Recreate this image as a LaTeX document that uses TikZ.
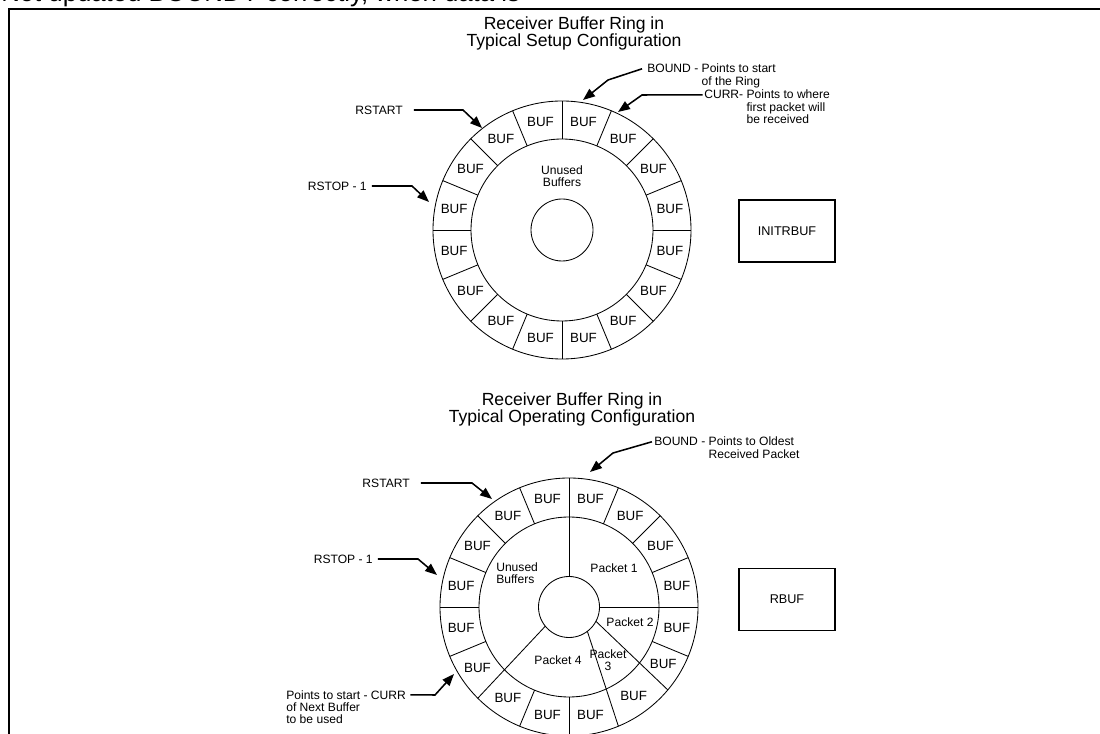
\documentclass[tikz,border=0pt]{standalone}
\usepackage{fontspec}
\setmainfont{Liberation Sans}
\usetikzlibrary{arrows.meta,positioning}

\begin{document}
\begin{tikzpicture}[x=0.025cm, y=-0.025cm,
    ringline/.style={line width=0.6pt},
    ptr/.style={-{Triangle[length=8.5pt,width=6.5pt]}, line width=1.1pt},
    buf/.style={font=\fontsize{9.5}{9.5}\selectfont, inner sep=0pt},
    note/.style={font=\fontsize{8.6}{8.5}\selectfont, inner sep=0pt},
    ttl/.style={font=\fontsize{12.5}{11.2}\selectfont, inner sep=0pt},
    regbox/.style={draw, line width=0.8pt, minimum width=2.4cm, minimum height=1.55cm, font=\fontsize{9}{9}\selectfont}]

    \useasboundingbox (0,0) rectangle (1100,734);
    \clip (0,0) rectangle (1100,734);

    % Page fragment and frame
    \node[anchor=base west, font=\fontsize{18.3}{18.3}\selectfont, inner sep=0pt] (pagetext) at (1,2) {Not updated BOUNDY correctly, when data is};
    \draw[line width=1pt] (9,734) -- (9,9) -- (1100,9);

    % Setup ring
    \coordinate (T) at (562,230);
    \node[ttl, anchor=base] (setuptitle) at (574,29.5) {\begin{tabular}[t]{@{}c@{}}Receiver Buffer Ring in\\Typical Setup Configuration\end{tabular}};
    \draw[ringline] (T) circle (129);
    \draw[ringline] (T) circle (91);
    \draw[ringline] (T) circle (31);
    \foreach \a in {0,22.5,...,337.5}
        \draw[ringline] ([shift={(\a:91)}]T) -- ([shift={(\a:129)}]T);
    \foreach \a in {11.25,33.75,...,348.75}
        \node[buf] at ([shift={(\a:110)}]T) {BUF};
    \node[note, align=center] (setupunused) at (562,176) {Unused\\Buffers};
    \node[regbox] (initrbuf) at (787,231) {INITRBUF};

    % Pointers, setup ring
    \node[note, anchor=east] (rstartA) at (403,110) {RSTART};
    \coordinate (rstartAtip) at (482,128);
    \draw[ptr] ([xshift=7.8pt]rstartA.east) -- (463,110) -- (rstartAtip);

    \node[note, anchor=east] (rstopA) at (367,186) {RSTOP - 1};
    \coordinate (rstopAtip) at (429,202);
    \draw[ptr] ([xshift=3.5pt]rstopA.east) -- (412,186) -- (rstopAtip);

    \node[note, anchor=base west] (boundA) at (647,73) {\begin{tabular}[t]{@{}l@{\ }l@{}}BOUND -&Points to start\\&of the Ring\end{tabular}};
    \coordinate (boundAtip) at (583,100);
    \draw[ptr] ([shift={(-3.5pt,3pt)}]boundA.base west) -- (608,80) -- (boundAtip);

    \node[note, anchor=base west] (currA) at (704,99) {\begin{tabular}[t]{@{}l@{\ }l@{}}CURR-&Points to where\\&first packet will\\&be received\end{tabular}};
    \coordinate (currAtip) at (618,112);
    \draw[ptr] ([shift={(-1pt,3pt)}]currA.base west) -- (642,95) -- (currAtip);

    % Operating ring
    \coordinate (B) at (569,607);
    \node[ttl, anchor=base] (opertitle) at (572,405.5) {\begin{tabular}[t]{@{}c@{}}Receiver Buffer Ring in\\Typical Operating Configuration\end{tabular}};
    \draw[ringline] (B) circle (129);
    \draw[ringline] (B) circle (90);
    \draw[ringline] (B) circle (30.5);
    \foreach \a in {0,22.5,45,67.5,90,112.5,135,157.5,180,202.5,247.5,270,337.5}
        \draw[ringline] ([shift={(-\a:90)}]B) -- ([shift={(-\a:129)}]B);
    \draw[ringline] ([shift={(-90:30.5)}]B) -- ([shift={(-90:90)}]B);
    \draw[ringline] ([shift={(0:30.5)}]B) -- ([shift={(0:90)}]B);
    \draw[ringline] ([shift={(28:30.5)}]B) -- ([shift={(40:129)}]B);
    \draw[ringline] ([shift={(53:30.5)}]B) -- ([shift={(67.5:129)}]B);
    \draw[ringline] ([shift={(141:30.5)}]B) -- ([shift={(135:129)}]B);
    \foreach \a in {11.25,33.75,56.25,78.75,101.25,123.75,146.25,168.75,191.25,213.75,236.25,258.75,281.25,306,329,348.75}
        \node[buf] at ([shift={(-\a:110)}]B) {BUF};
    \node[note, align=left, anchor=west] (operunused) at (496,573) {Unused\\Buffers};
    \node[note] (pkt1) at (614,568) {Packet 1};
    \node[note] (pkt2) at (630,622) {Packet 2};
    \node[note, align=center] (pkt3) at (608,660) {Packet\\3};
    \node[note] (pkt4) at (558,660) {Packet 4};
    \node[regbox] (rbuf) at (787,599.5) {RBUF};

    % Pointers, operating ring
    \node[note, anchor=base west] (boundB) at (654,446) {\begin{tabular}[t]{@{}l@{\ }l@{}}BOUND -&Points to Oldest\\&Received Packet\end{tabular}};
    \coordinate (boundBtip) at (590,472);
    \draw[ptr] ([shift={(-1.5pt,3pt)}]boundB.base west) -- (613,453) -- (boundBtip);

    \node[note, anchor=east] (rstartB) at (410,483) {RSTART};
    \coordinate (rstartBtip) at (492,499);
    \draw[ptr] ([xshift=7.8pt]rstartB.east) -- (472,483) -- (rstartBtip);

    \node[note, anchor=east] (rstopB) at (373,559) {RSTOP - 1};
    \coordinate (rstopBtip) at (437,575);
    \draw[ptr] ([xshift=3.5pt]rstopB.east) -- (418,559) -- (rstopBtip);

    \node[note, anchor=base west] (currB) at (286,699) {\begin{tabular}[t]{@{}l@{}}Points to start - CURR\\of Next Buffer\\to be used\end{tabular}};
    \coordinate (currBtip) at (454,674);
    \draw[ptr] ([shift={(3pt,3pt)}]currB.base east) -- (435,695) -- (currBtip);
\end{tikzpicture}
\end{document}
